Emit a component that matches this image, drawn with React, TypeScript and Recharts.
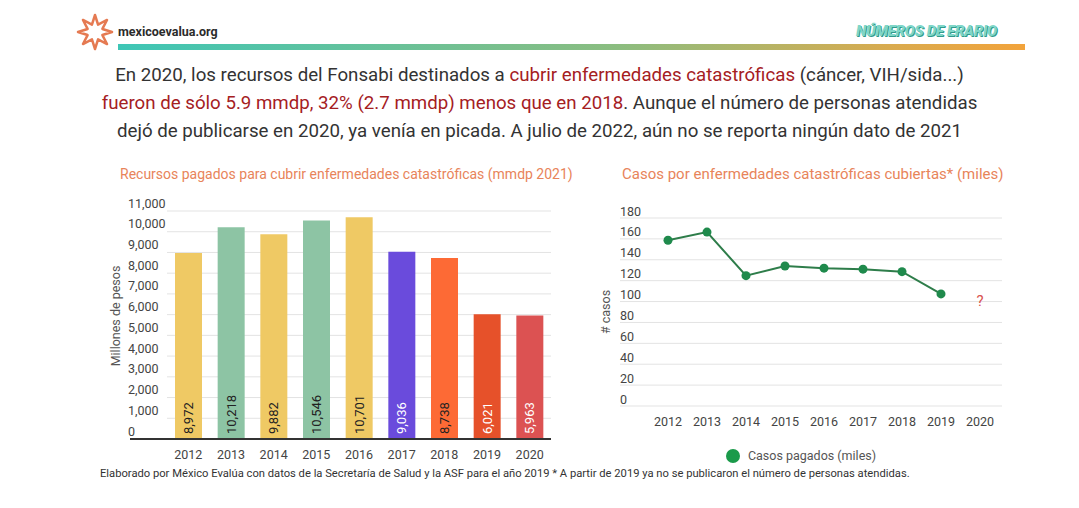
import React from "react";
import {
  BarChart,
  Bar,
  Cell,
  LabelList,
  LineChart,
  Line,
  XAxis,
  YAxis,
  CartesianGrid,
  Legend,
  ReferenceDot,
} from "recharts";

// Datos
const years = ["2012", "2013", "2014", "2015", "2016", "2017", "2018", "2019", "2020"];
const recursos = [8972, 10218, 9882, 10546, 10701, 9036, 8738, 6021, 5963];
const casos: (number | null)[] = [158.7, 166.5, 124.8, 134, 132, 131, 128.6, 107.3, null];
const recursosTicks = [0, 1000, 2000, 3000, 4000, 5000, 6000, 7000, 8000, 9000, 10000, 11000];
const casosTicks = [0, 20, 40, 60, 80, 100, 120, 140, 160, 180];
const sinDato = { year: "2020", value: 101, label: "?" };

const BAR_COLORS = ["#efc964", "#8dc4a4", "#efc964", "#8dc4a4", "#efc964", "#6a4bdc", "#fd6a35", "#e6512a", "#dc5252"];
const BAR_LABEL_COLORS = ["#222", "#222", "#222", "#222", "#222", "#fff", "#222", "#fff", "#fff"];

const barData = years.map((year, i) => ({ year, value: recursos[i] }));
const lineData = years.map((year, i) => ({ year, casos: casos[i] }));

const FONT = "Roboto, 'Noto Sans', sans-serif";
const ORANGE_TITLE = "#e8845a";

const LeftYTick = (props: any) => (
  <text x={28} y={props.y - 8} fill="#444" fontSize={12.5} fontFamily={FONT} dominantBaseline="central">
    {Number(props.payload.value).toLocaleString("en-US")}
  </text>
);

const RightYTick = (props: any) => (
  <text x={20} y={props.y - 7} fill="#444" fontSize={12.5} fontFamily={FONT} dominantBaseline="central">
    {props.payload.value}
  </text>
);

const BarValueLabel = (props: any) => {
  const { x, y, width, height, value, index } = props;
  const cx = x + width / 2;
  const by = y + height - 5;
  return (
    <text
      x={cx}
      y={by}
      transform={`rotate(-90, ${cx}, ${by})`}
      fill={BAR_LABEL_COLORS[index]}
      fontSize={13}
      fontFamily={FONT}
      textAnchor="start"
      dominantBaseline="central"
    >
      {Number(value).toLocaleString("en-US")}
    </text>
  );
};

const LegendContent = () => (
  <div style={{ display: "flex", alignItems: "center", justifyContent: "center", fontFamily: FONT }}>
    <span style={{ width: 14, height: 14, borderRadius: 7, background: "#1a9a4a", display: "inline-block", marginRight: 8 }} />
    <span style={{ fontSize: 12.5, color: "#555" }}>Casos pagados (miles)</span>
  </div>
);

function Logo() {
  const cx = 95;
  const cy = 32;
  const pts: string[] = [];
  for (let i = 0; i < 16; i++) {
    const r = i % 2 === 0 ? 17 : 8;
    const a = (Math.PI / 8) * i - Math.PI / 2;
    pts.push(`${cx + r * Math.cos(a)},${cy + r * Math.sin(a)}`);
  }
  return (
    <svg width={1079} height={60} style={{ position: "absolute", left: 0, top: 0 }}>
      <polygon points={pts.join(" ")} fill="none" stroke="#e57a52" strokeWidth={2.5} strokeLinejoin="round" />
      <defs>
        <linearGradient id="topbar" x1="0" x2="1" y1="0" y2="0">
          <stop offset="0%" stopColor="#3ec6b6" />
          <stop offset="55%" stopColor="#8bbd80" />
          <stop offset="85%" stopColor="#d9ab4f" />
          <stop offset="100%" stopColor="#f2a33b" />
        </linearGradient>
      </defs>
      <rect x={118} y={44} width={907} height={6} fill="url(#topbar)" />
    </svg>
  );
}

export default function App() {
  return (
    <div style={{ position: "relative", width: 1079, height: 508, background: "#fff", fontFamily: FONT, overflow: "hidden" }}>
      <style>{"body{margin:0}"}</style>
      <Logo />
      <div style={{ position: "absolute", left: 118, top: 24, fontSize: 12.5, fontWeight: 700, color: "#2b2b2b" }}>
        mexicoevalua.org
      </div>
      <div
        style={{
          position: "absolute",
          left: 856,
          top: 22,
          fontSize: 15,
          fontWeight: 900,
          fontStyle: "italic",
          color: "#7fd6c8",
          letterSpacing: -0.3,
          textShadow: "1px 1px 0 #2f9a8b",
        }}
      >
        NÚMEROS DE ERARIO
      </div>

      <div
        style={{
          position: "absolute",
          left: 0,
          top: 61,
          width: 1079,
          textAlign: "center",
          fontSize: 18.7,
          lineHeight: "28px",
          color: "#333",
        }}
      >
        En 2020, los recursos del Fonsabi destinados a{" "}
        <span style={{ color: "#a5201f" }}>cubrir enfermedades catastróficas</span> (cáncer, VIH/sida...)
        <br />
        <span style={{ color: "#a5201f" }}>fueron de sólo 5.9 mmdp, 32% (2.7 mmdp) menos que en 2018</span>. Aunque el
        número de personas atendidas
        <br />
        dejó de publicarse en 2020, ya venía en picada. A julio de 2022, aún no se reporta ningún dato de 2021
      </div>

      <div style={{ position: "absolute", left: 120, top: 166, fontSize: 14, color: ORANGE_TITLE }}>
        Recursos pagados para cubrir enfermedades catastróficas (mmdp 2021)
      </div>
      <div style={{ position: "absolute", left: 622, top: 165, fontSize: 15, color: ORANGE_TITLE }}>
        Casos por enfermedades catastróficas cubiertas* (miles)
      </div>

      <div
        style={{
          position: "absolute",
          left: 115,
          top: 316,
          fontSize: 12.5,
          color: "#555",
          transform: "translate(-50%, -50%) rotate(-90deg)",
          whiteSpace: "nowrap",
        }}
      >
        Millones de pesos
      </div>
      <div
        style={{
          position: "absolute",
          left: 605,
          top: 312,
          fontSize: 12.5,
          color: "#555",
          transform: "translate(-50%, -50%) rotate(-90deg)",
          whiteSpace: "nowrap",
        }}
      >
        # casos
      </div>

      <div style={{ position: "absolute", left: 100, top: 190 }}>
        <BarChart width={451} height={275} data={barData} margin={{ top: 21, right: 0, left: 0, bottom: 0 }}>
          <CartesianGrid vertical={false} stroke="#e3e3e3" />
          <XAxis
            dataKey="year"
            axisLine={false}
            tickLine={false}
            height={26}
            tickMargin={5}
            tick={{ fill: "#444", fontSize: 12.5, fontFamily: FONT }}
          />
          <YAxis
            width={67}
            domain={[0, 11000]}
            ticks={recursosTicks}
            axisLine={false}
            tickLine={false}
            tick={<LeftYTick />}
            interval={0}
          />
          <Bar dataKey="value" barSize={27} isAnimationActive={false}>
            {barData.map((d, i) => (
              <Cell key={d.year} fill={BAR_COLORS[i]} />
            ))}
            <LabelList dataKey="value" content={<BarValueLabel />} />
          </Bar>
        </BarChart>
      </div>
      <div style={{ position: "absolute", left: 130, top: 438, width: 421, height: 2, background: "#333" }} />

      <div style={{ position: "absolute", left: 600, top: 200 }}>
        <LineChart width={402} height={270} data={lineData} margin={{ top: 18, right: 0, left: 0, bottom: 40 }}>
          <CartesianGrid vertical={false} stroke="#e3e3e3" />
          <XAxis
            dataKey="year"
            axisLine={false}
            tickLine={false}
            height={24}
            tickMargin={5}
            padding={{ left: 48, right: 22 }}
            tick={{ fill: "#444", fontSize: 12.5, fontFamily: FONT }}
          />
          <YAxis
            width={20}
            domain={[0, 180]}
            ticks={casosTicks}
            axisLine={false}
            tickLine={false}
            tick={<RightYTick />}
            interval={0}
          />
          <Line
            dataKey="casos"
            name="Casos pagados (miles)"
            stroke="#2e7d4a"
            strokeWidth={2}
            dot={{ r: 4.5, fill: "#1f8a4c", stroke: "#1f8a4c", strokeWidth: 0 }}
            isAnimationActive={false}
          />
          <ReferenceDot
            x={sinDato.year}
            y={sinDato.value}
            r={0}
            label={{ value: sinDato.label, fill: "#d9534f", fontSize: 15, fontFamily: FONT }}
          />
          <Legend
            layout="horizontal"
            verticalAlign="middle"
            align="center"
            content={<LegendContent />}
            wrapperStyle={{ top: 248, left: 0, width: 402 }}
          />
        </LineChart>
      </div>

      <div style={{ position: "absolute", left: 100, top: 467, fontSize: 11.2, color: "#333", whiteSpace: "nowrap" }}>
        Elaborado por México Evalúa con datos de la Secretaría de Salud y la ASF para el año 2019 * A partir de 2019 ya no
        se publicaron el número de personas atendidas.
      </div>
    </div>
  );
}
